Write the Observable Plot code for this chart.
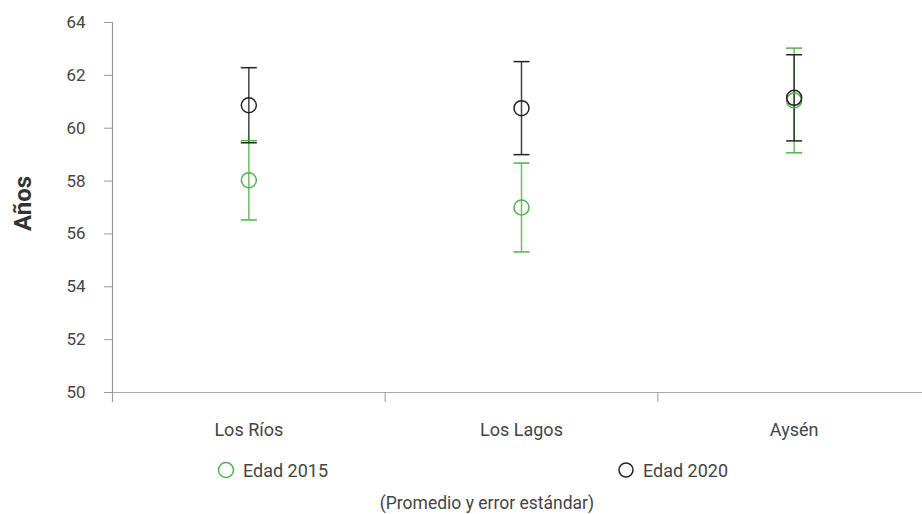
<!DOCTYPE html>
<html>
<head>
<meta charset="utf-8">
<script src="https://cdn.jsdelivr.net/npm/d3@7"></script>
<script src="https://cdn.jsdelivr.net/npm/@observablehq/plot@0.6"></script>
<style>
  html, body { margin: 0; padding: 0; background: #fff; }
  body { width: 922px; height: 514px; position: relative; overflow: hidden; font-family: Roboto, "Noto Sans", sans-serif; color: #444; }
  #chart { position: absolute; left: 0; top: 0; }
  .leg { position: absolute; top: 459px; height: 22px; font-size: 18px; color: #444; display: flex; align-items: center; white-space: nowrap; }
  .leg svg { margin-right: 6px; }
  #caption { position: absolute; top: 493px; left: 287px; width: 400px; text-align: center; font-size: 17.5px; color: #444; }
</style>
</head>
<body>
<div id="chart"></div>
<div class="leg" style="left:217px"><svg width="20" height="20"><circle cx="9" cy="10" r="7.5" fill="none" stroke="#52b24a" stroke-width="1.5"/></svg>Edad 2015</div>
<div class="leg" style="left:617px"><svg width="20" height="20"><circle cx="9" cy="10" r="7" fill="none" stroke="#222" stroke-width="1.5"/></svg>Edad 2020</div>
<div id="caption">(Promedio y error estándar)</div>
<script>
const categories = ["Los Ríos", "Los Lagos", "Aysén"];
const mean2015 = [58.03, 57.0, 61.05];
const se2015 = [1.5, 1.68, 1.98];
const mean2020 = [60.87, 60.76, 61.15];
const se2020 = [1.42, 1.76, 1.63];
const yTicks = [50, 52, 54, 56, 58, 60, 62, 64];
const seriesNames = ["Edad 2015", "Edad 2020"];
const seriesColors = ["#52b24a", "#222222"];

const rows = [];
[[mean2015, se2015], [mean2020, se2020]].forEach(([m, s], k) => {
  categories.forEach((c, i) => {
    rows.push({cat: c, pos: i + 0.5, mean: m[i], lo: m[i] - s[i], hi: m[i] + s[i], series: seriesNames[k]});
  });
});

const cap = {draw(ctx) { ctx.moveTo(-8, 0); ctx.lineTo(8, 0); }};
const color = {domain: seriesNames, range: seriesColors};

const chart = Plot.plot({
  width: 922,
  height: 452,
  marginTop: 22,
  marginBottom: 60,
  marginLeft: 112,
  marginRight: 0,
  style: {fontFamily: "Roboto, 'Noto Sans', sans-serif", fontSize: "17px", color: "#444", background: "#fff"},
  x: {domain: [0, 3], range: [112, 930]},
  y: {domain: [50, 64], range: [392, 22]},
  color,
  marks: [
    Plot.ruleY([50], {stroke: "#aaa", strokeWidth: 1.2}),
    Plot.ruleX([0], {y1: 64, y2: 50, stroke: "#999", strokeWidth: 1.2, insetBottom: -10}),
    Plot.axisY({ticks: yTicks, tickSize: 8, tickPadding: 19, stroke: "#999", fill: "#444", fontSize: 17, label: null}),
    Plot.axisX({ticks: [1, 2], tickSize: 10, tickFormat: () => "", stroke: "#999", label: null}),
    Plot.axisX({ticks: [0.5, 1.5, 2.5], tickSize: 0, tickPadding: 31, tickFormat: d => categories[Math.floor(d)], fill: "#444", fontSize: 18, label: null}),
    Plot.ruleX(rows, {x: "pos", y1: "lo", y2: "hi", stroke: "series", strokeWidth: 1.5, strokeOpacity: 0.85}),
    Plot.dot(rows, {x: "pos", y: "lo", symbol: cap, stroke: "series", fill: "none", strokeWidth: 1.5}),
    Plot.dot(rows, {x: "pos", y: "hi", symbol: cap, stroke: "series", fill: "none", strokeWidth: 1.5}),
    Plot.dot(rows, {x: "pos", y: "mean", r: 7.5, stroke: "series", fill: "none", strokeWidth: 1.5}),
    Plot.text(["Años"], {frameAnchor: "left", textAnchor: "middle", dx: -89, rotate: -90, fontSize: 24, fontWeight: "bold", fill: "#333", y: 57.15})
  ]
});
document.getElementById("chart").appendChild(chart);
</script>
</body>
</html>
